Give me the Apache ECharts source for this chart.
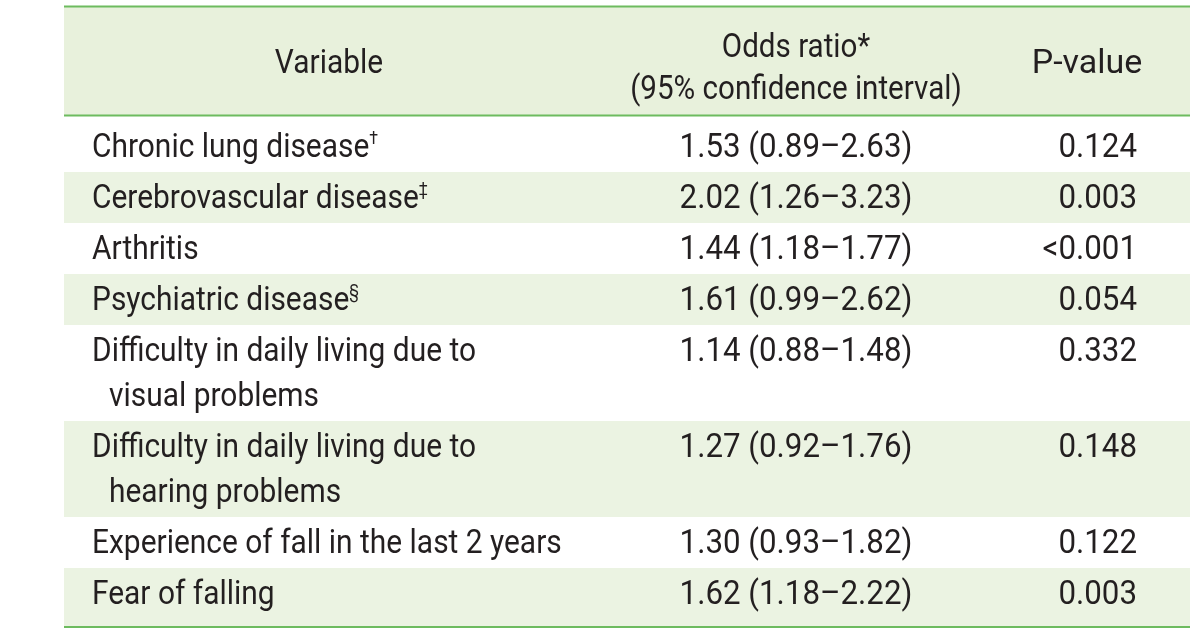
<!DOCTYPE html>
<html><head><meta charset="utf-8">
<script src="https://cdn.jsdelivr.net/npm/echarts@6/dist/echarts.min.js"></script>
<style>html,body{margin:0;padding:0;background:#fff}#c{width:1200px;height:631px}</style>
</head><body><div id="c"></div>
<script>
// ---- data ----
const headerVariable = 'Variable';
const headerOdds = ['Odds ratio*', '(95% confidence interval)'];
const headerP = 'P-value';
const variables = [
  'Chronic lung disease',
  'Cerebrovascular disease',
  'Arthritis',
  'Psychiatric disease',
  'Difficulty in daily living due to\nvisual problems',
  'Difficulty in daily living due to\nhearing problems',
  'Experience of fall in the last 2 years',
  'Fear of falling'
];
const footnoteMarks = ['\u2020', '\u2021', '', '\u00a7', '', '', '', ''];
const oddsRatios = [1.53, 2.02, 1.44, 1.61, 1.14, 1.27, 1.30, 1.62];
const ciLower = [0.89, 1.26, 1.18, 0.99, 0.88, 0.92, 0.93, 1.18];
const ciUpper = [2.63, 3.23, 1.77, 2.62, 1.48, 1.76, 1.82, 2.22];
const pValues = ['0.124', '0.003', '<0.001', '0.054', '0.332', '0.148', '0.122', '0.003'];

// ---- style ----
const FONT = "Roboto, 'Liberation Sans', sans-serif";
const FONT_SIZE = 34;
const SX_TEXT = 0.88, SX_NUM = 0.92, SX_P = 1.0;
const TEXT_DY = 2;
const TEXT_COLOR = '#231f20';
const LINE_COLOR = '#6dbb5f';
const HEAD_BG = '#e8f1dc';
const ROW_BG = '#ebf3e2';

const TABLE_W = 1126;
const TOP_PAD = 5, ROW_H = 51, LINE_GAP = 45, BOTTOM_PAD = 8;
const COL_TEXT = 28, COL_INDENT = 45, COL_OR = 732, COL_P = 1073;

// ---- layout in row units ----
const lineCounts = variables.map(v => v.split('\n').length);
const rowStart = [], rowEnd = [];
let cursor = TOP_PAD;
lineCounts.forEach(n => { rowStart.push(cursor); cursor += ROW_H + (n - 1) * LINE_GAP; rowEnd.push(cursor); });
const TOTAL = cursor + BOTTOM_PAD;

const rows = variables.map((v, i) => [
  i, rowStart[i], rowEnd[i],
  i === 0 ? 0 : rowStart[i],
  i === variables.length - 1 ? TOTAL : rowEnd[i]
]);

const fmt = x => x.toFixed(2);

function txt(text, x, y, align, sx, extra) {
  return Object.assign({ type: 'text', x: x, y: y + TEXT_DY, scaleX: sx, style: Object.assign({
    legacy: false, text: text, x: 0, y: 0, align: align, verticalAlign: 'middle',
    fontSize: FONT_SIZE, fontFamily: FONT, fill: TEXT_COLOR
  }, extra || {}) });
}

function renderItem(params, api) {
  const i = api.value(0);
  const top = api.coord([0, api.value(3)]);
  const bot = api.coord([TABLE_W, api.value(4)]);
  const children = [];
  if (i % 2 === 1) {
    children.push({ type: 'rect', shape: { x: top[0], y: top[1], width: bot[0] - top[0], height: bot[1] - top[1] },
      style: { fill: ROW_BG } });
  }
  const lines = variables[i].split('\n');
  lines.forEach((ln, k) => {
    const p = api.coord([k === 0 ? COL_TEXT : COL_INDENT, api.value(1) + ROW_H / 2 + k * LINE_GAP]);
    const mark = (k === lines.length - 1 && footnoteMarks[i]) ? '{sup|' + footnoteMarks[i] + '}' : '';
    children.push(txt(ln + mark, p[0], p[1], 'left', SX_TEXT, {
      rich: { sup: { fontSize: 18, fontFamily: FONT, fill: TEXT_COLOR, verticalAlign: 'top', lineHeight: 36 } }
    }));
  });
  const yMid = api.value(1) + ROW_H / 2;
  const pOr = api.coord([COL_OR, yMid]);
  children.push(txt(fmt(oddsRatios[i]) + ' (' + fmt(ciLower[i]) + '\u2013' + fmt(ciUpper[i]) + ')',
    pOr[0], pOr[1], 'center', SX_NUM));
  const pP = api.coord([COL_P, yMid]);
  children.push(txt(pValues[i], pP[0], pP[1], 'right', SX_NUM));
  return { type: 'group', children };
}

const chart = echarts.init(document.getElementById('c'), null, { renderer: 'canvas' });
chart.setOption({
  animation: false,
  backgroundColor: '#fff',
  grid: { left: 64, right: 10, top: 116, bottom: 4 },
  xAxis: { type: 'value', min: 0, max: TABLE_W, show: false },
  yAxis: { type: 'value', min: 0, max: TOTAL, inverse: true, show: false },
  series: [{ type: 'custom', renderItem, data: rows, clip: false, silent: true }],
  graphic: [
    { type: 'rect', z: -1, shape: { x: 64, y: 7, width: TABLE_W, height: 108 }, style: { fill: HEAD_BG } },
    { type: 'line', shape: { x1: 64, y1: 6.5, x2: 64 + TABLE_W, y2: 6.5 }, style: { stroke: LINE_COLOR, lineWidth: 2 } },
    { type: 'line', shape: { x1: 64, y1: 115.5, x2: 64 + TABLE_W, y2: 115.5 }, style: { stroke: LINE_COLOR, lineWidth: 2 } },
    { type: 'line', shape: { x1: 64, y1: 627, x2: 64 + TABLE_W, y2: 627 }, style: { stroke: LINE_COLOR, lineWidth: 2 }, z: 10 },
    { type: 'text', x: 329, y: 62 + TEXT_DY, scaleX: SX_TEXT, style: { text: headerVariable, x: 0, y: 0, align: 'center', verticalAlign: 'middle',
      fontSize: FONT_SIZE, fontFamily: FONT, fill: TEXT_COLOR } },
    { type: 'text', x: 796, y: 67 + TEXT_DY, scaleX: 0.87, style: { text: headerOdds.join('\n'), x: 0, y: 0, align: 'center', verticalAlign: 'middle',
      lineHeight: 42, fontSize: FONT_SIZE, fontFamily: FONT, fill: TEXT_COLOR } },
    { type: 'text', x: 1087, y: 62 + TEXT_DY, scaleX: SX_P, style: { text: headerP, x: 0, y: 0, align: 'center', verticalAlign: 'middle',
      fontSize: FONT_SIZE, fontFamily: FONT, fill: TEXT_COLOR } }
  ]
});
</script></body></html>
